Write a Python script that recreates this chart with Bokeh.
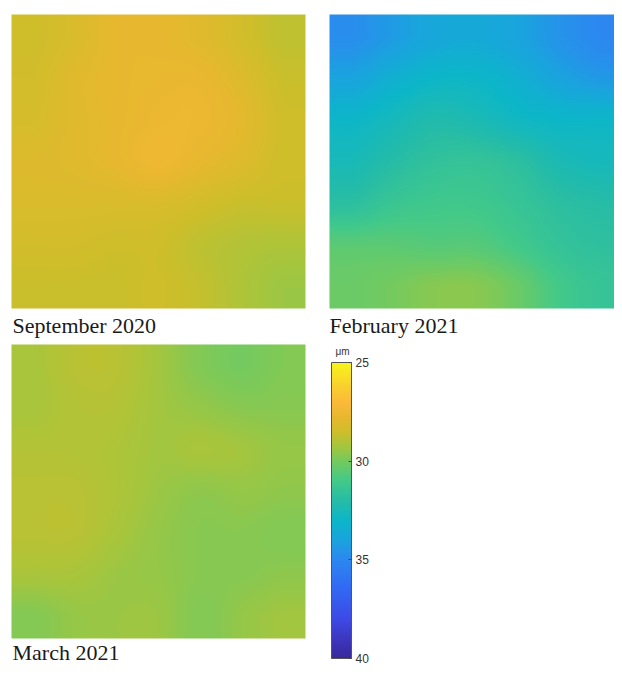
import numpy as np
from bokeh.plotting import figure
from bokeh.models import (Range1d, LinearColorMapper, ColorBar, FixedTicker,
                          CustomJSTickFormatter, AllLabels)
from bokeh.embed import file_html
from bokeh.resources import INLINE
from bokeh.core.properties import value

# ---------------- data (rows top -> bottom) -------------
panel_titles = ["September 2020", "February 2021", "March 2021"]

sep_2020 = [
    [28.5, 28.2, 27.8, 27.8, 28.0, 28.4, 28.8],
    [28.4, 28.0, 27.8, 27.7, 27.7, 28.1, 28.6],
    [28.3, 28.0, 27.8, 27.6, 27.6, 27.9, 28.5],
    [28.1, 28.0, 27.8, 27.5, 27.8, 28.1, 28.5],
    [28.2, 28.2, 28.2, 28.2, 28.4, 28.6, 28.6],
    [28.4, 28.4, 28.5, 28.5, 28.8, 29.0, 29.1],
    [28.6, 28.6, 28.6, 28.5, 28.7, 29.1, 29.4],
]

feb_2021 = [
    [34.8, 34.3, 33.8, 33.7, 34.0, 34.6, 35.0],
    [34.0, 33.4, 33.0, 33.0, 33.4, 34.0, 34.4],
    [33.0, 32.6, 32.2, 32.4, 32.8, 33.0, 33.0],
    [32.5, 32.0, 31.6, 31.5, 31.8, 32.4, 32.6],
    [31.8, 31.3, 31.1, 31.1, 31.4, 31.8, 32.0],
    [30.5, 30.5, 30.6, 30.6, 31.0, 31.5, 31.7],
    [30.2, 30.0, 29.7, 29.7, 30.2, 31.0, 31.4],
]

mar_2021 = [
    [29.2, 28.9, 28.9, 29.3, 29.8, 30.0, 29.8],
    [29.2, 29.0, 29.0, 29.3, 29.5, 29.7, 29.7],
    [29.0, 29.0, 29.1, 29.3, 29.2, 29.3, 29.5],
    [28.9, 28.9, 29.1, 29.4, 29.6, 29.5, 29.6],
    [28.9, 28.9, 29.2, 29.5, 29.7, 29.7, 29.8],
    [29.2, 29.2, 29.4, 29.5, 29.7, 29.7, 29.6],
    [29.8, 29.5, 29.4, 29.4, 29.8, 29.5, 29.3],
]

cbar_ticks = [25, 30, 35, 40]
cbar_unit = "μm"
cbar_low, cbar_high = 25, 40

# ---------------- colour map (parula-like, yellow at 25 -> dark blue at 40) ----
anchor_vals = [25.0, 26.0, 27.0, 27.8, 28.5, 29.2, 30.0, 31.0, 32.0, 33.0,
               34.0, 35.0, 36.5, 38.0, 39.0, 40.0]
anchor_cols = ["#F8F41A", "#F9D52C", "#FBB93A", "#E6B82E", "#CEBE2A", "#A8C53C",
               "#74CA5E", "#42C98A", "#26BCA6", "#0CB6C8", "#1AA4DE", "#2C88F0",
               "#3268F4", "#3E4AE6", "#3C38C0", "#38289A"]


def build_palette(n=256):
    av = np.array(anchor_vals)
    rgb = np.array([[int(c[i:i + 2], 16) for i in (1, 3, 5)] for c in anchor_cols], float)
    pos = np.linspace(av[0], av[-1], n)
    out = []
    for v in pos:
        r, g, b = (np.interp(v, av, rgb[:, k]) for k in range(3))
        out.append("#%02x%02x%02x" % (int(round(r)), int(round(g)), int(round(b))))
    return out


def _smooth_axis0(a, n):
    # display-only smoothing of the read grid (Catmull-Rom resampling)
    m = a.shape[0]
    t = (np.arange(n) + 0.5) / n * m - 0.5
    t = np.clip(t, 0, m - 1)
    i = np.floor(t).astype(int)
    f = (t - i)[:, None]
    g = lambda j: a[np.clip(j, 0, m - 1)]
    p0, p1, p2, p3 = g(i - 1), g(i), g(i + 1), g(i + 2)
    return 0.5 * (2 * p1 + (-p0 + p2) * f + (2 * p0 - 5 * p1 + 4 * p2 - p3) * f ** 2
                  + (-p0 + 3 * p1 - 3 * p2 + p3) * f ** 3)


def display_field(grid, n=147):
    a = np.flipud(np.array(grid, dtype=float))
    a = _smooth_axis0(a, n)
    a = _smooth_axis0(a.T, n).T
    return a


pal = build_palette()
img_mapper = LinearColorMapper(palette=pal, low=cbar_low, high=cbar_high)
cb_mapper = LinearColorMapper(palette=pal[::-1], low=-cbar_high, high=-cbar_low)

# ---------------- figure ------------------------------------------------------
W, H = 614, 666
p = figure(width=W, height=H, x_range=Range1d(0, W), y_range=Range1d(0, H),
           output_backend="svg", toolbar_location=None, min_border=0)
p.axis.visible = False
p.grid.visible = False
p.outline_line_color = None
p.background_fill_color = "white"
p.border_fill_color = "white"

SIDE = 294
panels = [
    (sep_2020, 11, 358, 12, 341),
    (feb_2021, 329, 358, 329, 341),
    (mar_2021, 11, 28, 12, 14),
]
for (grid, x0, y0, tx, ty), title in zip(panels, panel_titles):
    p.image(image=[display_field(grid)], x=x0, y=y0, dw=SIDE, dh=SIDE,
            color_mapper=img_mapper)
    p.text(x=[tx], y=[ty], text=[title], text_font=value("Liberation Serif"),
           text_font_size="22px", text_color="#1a1a1a", text_baseline="alphabetic",
           text_align="left")

cb = ColorBar(color_mapper=cb_mapper, orientation="vertical", location=(331, 8),
              width=20, height=296, padding=0,
              ticker=FixedTicker(ticks=[-t for t in cbar_ticks]),
              formatter=CustomJSTickFormatter(code="return String(-tick)"),
              major_label_policy=AllLabels(),
              major_label_text_font="Liberation Sans",
              major_label_text_font_size="12px",
              major_label_text_color="#333333", label_standoff=4,
              major_tick_line_color="#444444", major_tick_in=3, major_tick_out=0,
              bar_line_color="#555555", background_fill_alpha=0,
              border_line_color=None)
p.add_layout(cb)

p.text(x=[342], y=[315], text=[cbar_unit], text_font=value("Liberation Sans"),
       text_font_size="10px", text_color="#333333", text_align="center",
       text_baseline="alphabetic")

open("out.html", "w").write(file_html(p, INLINE))
